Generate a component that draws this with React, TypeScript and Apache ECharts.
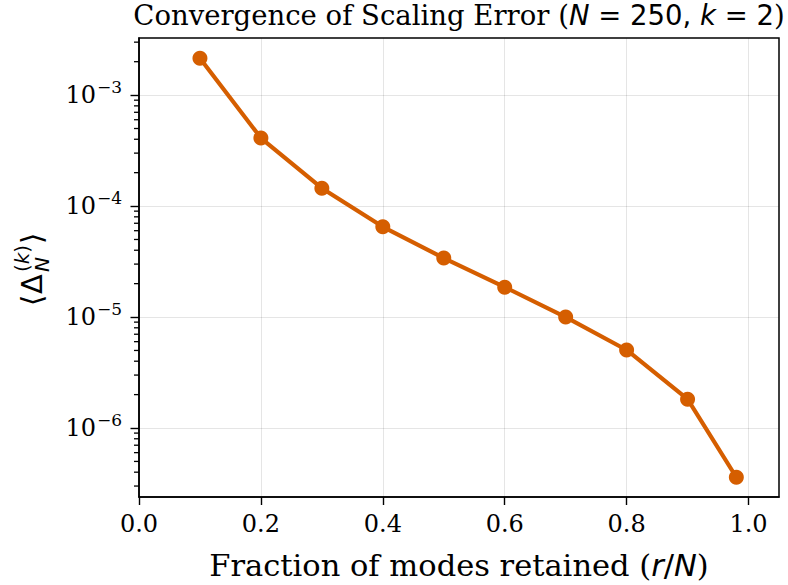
import React, { useEffect, useRef } from "react";
import * as echarts from "echarts";

const xValues = [0.1, 0.2, 0.3, 0.4, 0.5, 0.6, 0.7, 0.8, 0.9, 0.98];
const yValues = [2.15e-3, 4.1e-4, 1.45e-4, 6.5e-5, 3.4e-5, 1.86e-5, 1.0e-5, 5.05e-6, 1.82e-6, 3.6e-7];
const xTicks = [0, 0.2, 0.4, 0.6, 0.8, 1.0];
const yMajorTicks = [1e-3, 1e-4, 1e-5, 1e-6];
const yMinorTicks = [
  3e-7, 4e-7, 5e-7, 6e-7, 7e-7, 8e-7, 9e-7,
  2e-6, 3e-6, 4e-6, 5e-6, 6e-6, 7e-6, 8e-6, 9e-6,
  2e-5, 3e-5, 4e-5, 5e-5, 6e-5, 7e-5, 8e-5, 9e-5,
  2e-4, 3e-4, 4e-4, 5e-4, 6e-4, 7e-4, 8e-4, 9e-4,
  2e-3, 3e-3,
];

const COLOR = "#D55E00";
const SERIF = "DejaVu Serif";
const SANS = "DejaVu Sans";

export default function App() {
  const ref = useRef<HTMLDivElement>(null);
  useEffect(() => {
    if (!ref.current) return;
    const chart = echarts.init(ref.current, undefined, { renderer: "svg" });
    const gridLeft = 139, gridTop = 38, gridW = 640, gridH = 459;
    const cx = gridLeft + gridW / 2;
    const baseGraphic: any[] = [
      {
        type: "rect",
        shape: { x: gridLeft, y: gridTop, width: gridW, height: gridH },
        style: { fill: "none", stroke: "#000", lineWidth: 1.5 },
        z: 10,
        silent: true,
      },
      {
        type: "text",
        x: cx,
        y: 15,
        style: {
          text: "{t|Convergence of Scaling Error (}{m|N}{n| = 250, }{m|k}{n| = 2}{t|)}",
          textAlign: "center",
          textVerticalAlign: "middle",
          rich: {
            t: { fontFamily: SERIF, fontSize: 27.5, fill: "#000" },
            m: { fontFamily: SANS, fontStyle: "italic", fontSize: 27.5, fill: "#000" },
            n: { fontFamily: SANS, fontSize: 27.5, fill: "#000" },
          },
        },
      },
      {
        type: "text",
        x: cx,
        y: 565,
        style: {
          text: "{t|Fraction of modes retained (}{m|r}{n|/}{m|N}{t|)}",
          textAlign: "center",
          textVerticalAlign: "middle",
          rich: {
            t: { fontFamily: SERIF, fontSize: 30.5, fill: "#000" },
            m: { fontFamily: SANS, fontStyle: "italic", fontSize: 30.5, fill: "#000" },
            n: { fontFamily: SANS, fontSize: 30.5, fill: "#000" },
          },
        },
      },
      {
        type: "group",
        x: 32,
        y: 268,
        rotation: Math.PI / 2,
        children: [
          { type: "text", x: -38, y: 0, style: { text: "⟨", fontFamily: SANS, fontSize: 29, fill: "#000", textVerticalAlign: "middle" } },
          { type: "text", x: -26, y: 0, style: { text: "Δ", fontFamily: SANS, fontSize: 29, fill: "#000", textVerticalAlign: "middle" } },
          {
            type: "text", x: -4, y: -10,
            style: {
              text: "{p|(}{i|k}{p|)}", textVerticalAlign: "middle",
              rich: {
                p: { fontFamily: SANS, fontSize: 20, fill: "#000" },
                i: { fontFamily: SANS, fontStyle: "italic", fontSize: 20, fill: "#000" },
              },
            },
          },
          { type: "text", x: -4, y: 10, style: { text: "N", fontFamily: SANS, fontStyle: "italic", fontSize: 20, fill: "#000", textVerticalAlign: "middle" } },
          { type: "text", x: 24, y: 0, style: { text: "⟩", fontFamily: SANS, fontSize: 29, fill: "#000", textVerticalAlign: "middle" } },
        ],
      },
    ];
    chart.setOption({
      animation: false,
      backgroundColor: "#ffffff",
      grid: { left: gridLeft, top: gridTop, width: gridW, height: gridH, show: false },
      xAxis: {
        type: "value",
        min: 0,
        max: 1.05,
        interval: 0.2,
        axisLine: { show: true, onZero: false, lineStyle: { color: "#000", width: 1.5 } },
        axisTick: { show: true, length: 8, lineStyle: { color: "#000", width: 1.4 }, customValues: xTicks },
        axisLabel: {
          customValues: xTicks,
          formatter: (v: number) => v.toFixed(1),
          fontFamily: SERIF, fontSize: 24, color: "#000", margin: 15,
        },
        splitLine: { show: true, lineStyle: { color: "rgba(0,0,0,0.1)", width: 1 } },
      },
      yAxis: {
        type: "log",
        logBase: 10,
        min: 2.39e-7,
        max: 3.27e-3,
        axisLine: { show: true, lineStyle: { color: "#000", width: 1.5 } },
        axisTick: { show: true, length: 8.5, lineStyle: { color: "#000", width: 1.4 }, customValues: yMajorTicks },
        axisLabel: {
          customValues: yMajorTicks,
          formatter: (v: number) => {
            const e = Math.round(Math.log10(v));
            return `{b|10}{s|−${-e}}`;
          },
          margin: 17,
          rich: {
            b: { fontFamily: SERIF, fontSize: 24, color: "#000" },
            s: { fontFamily: SERIF, fontSize: 17, color: "#000", padding: [0, 0, 16, 1] },
          },
        },
        splitLine: { show: true, lineStyle: { color: "rgba(0,0,0,0.1)", width: 1 } },
      },
      series: [
        {
          type: "line",
          data: xValues.map((x, i) => [x, yValues[i]]),
          symbol: "circle",
          symbolSize: 15,
          lineStyle: { color: COLOR, width: 4.2 },
          itemStyle: { color: COLOR },
          z: 5,
        },
      ],
      graphic: baseGraphic,
    });
    const minorTicks = yMinorTicks.map((v) => {
      const y = chart.convertToPixel({ yAxisIndex: 0 }, v) as number;
      return {
        type: "line",
        shape: { x1: gridLeft - 5, y1: y, x2: gridLeft, y2: y },
        style: { stroke: "#000", lineWidth: 1.3 },
        z: 10,
        silent: true,
      };
    });
    chart.setOption({ graphic: [...baseGraphic, ...minorTicks] });
    return () => chart.dispose();
  }, []);
  return <div ref={ref} style={{ position: "absolute", left: 0, top: 0, width: 788, height: 585 }} />;
}
